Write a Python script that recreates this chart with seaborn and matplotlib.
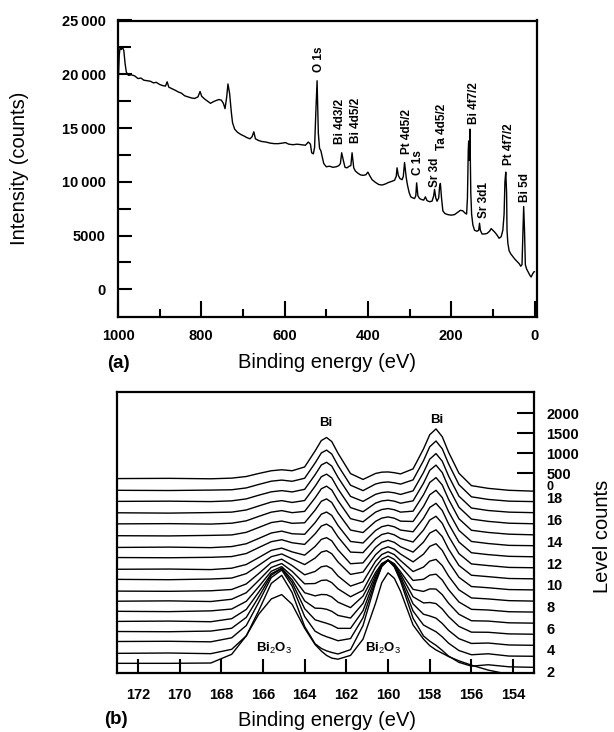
import numpy as np
import pandas as pd
import matplotlib
matplotlib.use("Agg")
import matplotlib.pyplot as plt
import seaborn as sns

# ---------------- (a) survey spectrum ----------------
survey_binding_energy = [
    999, 997, 995, 992, 989, 986, 983, 980, 975, 968, 960, 952, 945, 938, 930, 922, 915, 908, 900, 893,
    886, 882, 878, 870, 862, 855, 848, 840, 832, 824, 816, 808, 803, 799, 792, 785, 778, 771, 765, 758,
    752, 747, 743, 739, 736, 732, 728, 725, 720, 713, 705, 697, 690, 683, 678, 674, 670, 663, 655, 645,
    635, 625, 615, 605, 598, 590, 580, 570, 560, 550, 543, 538, 535, 531, 528, 525, 522, 519, 516, 513,
    510, 506, 500, 492, 484, 476, 470, 466, 463, 459, 455, 450, 445, 441, 438, 434, 430, 424, 418, 412,
    405, 400, 396, 390, 382, 374, 366, 358, 350, 342, 336, 332, 330, 327, 323, 318, 315, 312, 308, 305,
    301, 297, 292, 288, 285, 283, 280, 276, 271, 266, 262, 258, 252, 246, 242, 240, 237, 234, 230, 228,
    226, 223, 220, 215, 208, 200, 192, 185, 178, 172, 167, 163, 161, 159, 158, 157, 156, 155, 153, 151,
    148, 144, 138, 134, 132, 130, 126, 120, 114, 108, 104, 100, 95, 90, 85, 80, 76, 73, 71, 69,
    67, 66, 64, 61, 57, 52, 47, 42, 37, 33, 30, 28, 26, 24, 22, 19, 15, 11, 8, 5, 2, 0]
survey_intensity = [
    19600, 21800, 22500, 22300, 22500, 22200, 21000, 20200, 19900, 19950, 19850, 19600, 19650, 19450, 19400, 19350, 19200, 19250, 19050, 18950,
    18900, 19300, 18800, 18650, 18500, 18350, 18250, 18000, 17900, 17800, 17750, 17900, 18400, 17950, 17700, 17500, 17300, 17450, 17550, 17650,
    17600, 17300, 16800, 17900, 19100, 18200, 16500, 15500, 14900, 14600, 14400, 14250, 14100, 14000, 14200, 14650, 14000, 13850, 13750, 13700,
    13600, 13550, 13550, 13600, 13650, 13500, 13450, 13500, 13450, 13400, 13700, 13500, 12700, 12600, 13200, 16500, 19400, 14500, 13100, 12900,
    12400, 11700, 11400, 11450, 11350, 11400, 11500, 11700, 12700, 12000, 11350, 11300, 11450, 11500, 12700, 11300, 11000, 10800, 10650, 10600,
    10650, 10900, 10600, 10200, 9950, 9750, 9700, 9800, 9950, 10050, 10150, 10500, 11300, 10600, 10300, 10200, 10500, 11800, 10400, 9700,
    9000, 8600, 8500, 8450, 8700, 9900, 8700, 8450, 8350, 8300, 8600, 8250, 8150, 8200, 8700, 9300, 8500, 8200, 8500, 9500,
    9850, 8400, 7300, 7050, 6950, 6900, 6950, 7150, 7350, 7300, 7100, 7000, 8500, 13000, 13800, 12000, 13000, 14900, 9000, 7000,
    6000, 5500, 5400, 5500, 6150, 5500, 5150, 5150, 5200, 5400, 5650, 5500, 5300, 5050, 4750, 4900, 5500, 7000, 10000, 10900,
    9000, 5500, 4300, 3600, 3300, 3050, 2800, 2600, 2400, 2150, 2300, 5000, 7700, 5500, 2300, 1900, 1600, 1300, 1150, 1400, 1600, 1650]

peak_names = ["O 1s", "Bi 4d3/2", "Bi 4d5/2", "Pt 4d5/2", "C 1s", "Sr 3d", "Ta 4d5/2",
              "Bi 4f7/2", "Sr 3d1", "Pt 4f7/2", "Bi 5d"]
peak_label_energy = [518, 466, 428, 306, 280, 240, 221, 146, 122, 61, 23.5]
peak_label_intensity = [20200, 13550, 13600, 12550, 10600, 9530, 12930, 15400, 6600, 11540, 8140]

survey_xticks = [0, 200, 400, 600, 800, 1000]
survey_xticks_minor = [100, 300, 500, 700, 900]
survey_yticks = [0, 5000, 10000, 15000, 20000, 25000]
survey_ytick_labels = ["0", "5000", "10\u2009000", "15\u2009000", "20\u2009000", "25\u2009000"]
survey_yticks_minor = [2500, 7500, 12500, 17500, 22500]

# ---------------- (b) Bi 4f depth profile (offset spectra, in level units) ----------------
hr_binding_energy = [173.0, 170.5, 168.5, 167.5, 166.8, 166.2, 165.6, 165.1, 164.6, 164.0, 163.5,
                     163.2, 162.95, 162.7, 162.4, 161.8, 161.2, 160.6, 160.3, 160.0, 159.7, 159.4,
                     158.8, 158.3, 158.0, 157.7, 157.4, 157.1, 156.6, 156.0, 155.2, 154.2, 153.0]

spectrum_01 = [2.77, 2.77, 2.80, 3.6, 5.3, 7.3, 8.7, 9.1, 8.2, 6.0, 4.5, 3.9, 3.5, 3.25, 3.15, 3.5, 5.0,
               8.3, 10.2, 11.1, 10.6, 9.4, 6.3, 5.0, 4.4, 4.0, 3.7, 3.4, 3.0, 2.6, 2.15, 1.75, 1.55]
spectrum_02 = [3.69, 3.72, 3.66, 4.06, 5.30, 7.63, 10.13, 10.87, 9.28, 6.16, 4.57, 4.14, 3.92, 3.77, 3.63, 4.03, 6.25,
               10.17, 11.68, 12.27, 11.65, 10.33, 6.92, 5.29, 4.81, 4.43, 3.96, 3.44, 2.86, 2.51, 2.64, 2.45, 2.40]
spectrum_03 = [4.78, 4.80, 4.75, 5.12, 6.25, 8.40, 10.67, 11.36, 9.88, 7.08, 5.73, 5.41, 5.22, 5.06, 4.85, 5.05, 6.97,
               10.41, 11.74, 12.25, 11.71, 10.53, 7.58, 6.30, 5.98, 5.68, 5.21, 4.63, 3.95, 3.56, 3.65, 3.44, 3.42]
spectrum_04 = [5.70, 5.68, 5.74, 6.00, 7.00, 8.89, 10.89, 11.49, 10.20, 7.80, 6.78, 6.60, 6.46, 6.29, 5.99, 5.99, 7.62,
               10.65, 11.82, 12.27, 11.80, 10.75, 8.24, 7.29, 7.13, 6.93, 6.44, 5.81, 5.04, 4.60, 4.64, 4.46, 4.43]
spectrum_05 = [6.63, 6.66, 6.60, 6.88, 7.73, 9.33, 11.02, 11.53, 10.46, 8.52, 7.85, 7.83, 7.75, 7.56, 7.18, 6.94, 8.29,
               10.89, 11.89, 12.27, 11.86, 10.98, 8.90, 8.33, 8.37, 8.27, 7.77, 7.07, 6.17, 5.64, 5.63, 5.48, 5.45]
spectrum_06 = [7.56, 7.53, 7.60, 7.77, 8.48, 9.83, 11.25, 11.67, 10.79, 9.27, 8.98, 9.11, 9.09, 8.88, 8.40, 7.90, 8.96,
               11.13, 11.96, 12.28, 11.94, 11.20, 9.58, 9.39, 9.62, 9.61, 9.09, 8.31, 7.29, 6.69, 6.66, 6.50, 6.47]
spectrum_07 = [8.49, 8.52, 8.46, 8.67, 9.27, 10.41, 11.60, 11.96, 11.24, 10.09, 10.12, 10.40, 10.44, 10.20, 9.63, 8.90, 9.49,
               11.63, 12.36, 12.64, 12.34, 11.70, 10.40, 10.51, 10.89, 10.98, 10.44, 9.56, 8.42, 7.74, 7.68, 7.52, 7.49]
spectrum_08 = [9.42, 9.40, 9.45, 9.57, 10.08, 11.04, 12.05, 12.36, 11.77, 10.92, 11.23, 11.66, 11.74, 11.49, 10.81, 9.88, 10.28,
               12.17, 12.79, 13.04, 12.78, 12.23, 11.22, 11.63, 12.18, 12.34, 11.77, 10.81, 9.54, 8.79, 8.70, 8.54, 8.50]
spectrum_09 = [10.50, 10.47, 10.53, 10.62, 11.03, 11.80, 12.59, 12.84, 12.39, 11.86, 12.46, 13.01, 13.14, 12.86, 12.10, 10.96, 11.17,
               12.77, 13.29, 13.50, 13.28, 12.83, 12.11, 12.82, 13.54, 13.78, 13.17, 12.12, 10.69, 9.84, 9.73, 9.56, 9.53]
spectrum_10 = [11.43, 11.45, 11.40, 11.53, 11.87, 12.51, 13.17, 13.38, 13.03, 12.73, 13.53, 14.18, 14.34, 14.05, 13.22, 11.94, 12.02,
               13.45, 13.92, 14.10, 13.91, 13.50, 13.01, 13.93, 14.76, 15.06, 14.44, 13.30, 11.78, 10.88, 10.75, 10.58, 10.55]
spectrum_11 = [12.51, 12.49, 12.53, 12.60, 12.88, 13.43, 13.97, 14.15, 13.87, 13.72, 14.69, 15.41, 15.59, 15.29, 14.41, 13.01, 12.96,
               14.23, 14.63, 14.77, 14.60, 14.26, 13.94, 15.04, 15.96, 16.31, 15.66, 14.48, 12.87, 11.92, 11.77, 11.60, 11.57]
spectrum_12 = [13.44, 13.47, 13.42, 13.52, 13.78, 14.27, 14.77, 14.94, 14.70, 14.65, 15.72, 16.50, 16.70, 16.39, 15.46, 13.99, 13.85,
               15.00, 15.35, 15.48, 15.34, 15.04, 14.88, 16.12, 17.12, 17.50, 16.84, 15.62, 13.94, 12.95, 12.78, 12.62, 12.58]
spectrum_13 = [14.52, 14.50, 14.55, 14.59, 14.83, 15.28, 15.73, 15.87, 15.66, 15.71, 16.87, 17.69, 17.91, 17.58, 16.62, 15.04, 14.81,
               15.84, 16.14, 16.25, 16.13, 15.86, 15.83, 17.21, 18.29, 18.70, 18.03, 16.75, 15.01, 13.99, 13.80, 13.63, 13.60]
spectrum_14 = [15.61, 15.63, 15.59, 15.67, 15.89, 16.30, 16.69, 16.83, 16.64, 16.76, 18.00, 18.84, 19.08, 18.73, 17.75, 16.09, 15.80,
               16.69, 16.93, 17.02, 16.91, 16.69, 16.78, 18.29, 19.42, 19.87, 19.19, 17.88, 16.08, 15.02, 14.82, 14.66, 14.60]
spectrum_15 = [16.63, 16.60, 16.65, 16.69, 16.89, 17.26, 17.62, 17.75, 17.58, 17.76, 19.07, 19.95, 20.19, 19.84, 18.83, 17.11, 16.73,
               17.52, 17.72, 17.79, 17.70, 17.51, 17.73, 19.35, 20.54, 21.02, 20.33, 18.98, 17.14, 16.05, 15.84, 15.67, 15.62]
spectrum_16 = [17.68, 17.70, 17.66, 17.73, 17.91, 18.25, 18.56, 18.67, 18.55, 18.79, 20.13, 21.03, 21.28, 20.93, 19.89, 18.14, 17.68,
               18.33, 18.49, 18.55, 18.47, 18.32, 18.65, 20.34, 21.57, 22.08, 21.38, 20.03, 18.16, 17.07, 16.84, 16.69, 16.64]
spectrum_17 = [18.70, 18.68, 18.72, 18.75, 18.92, 19.24, 19.54, 19.64, 19.53, 19.81, 21.21, 22.14, 22.40, 22.04, 20.98, 19.17, 18.67,
               19.28, 19.42, 19.47, 19.39, 19.27, 19.66, 21.43, 22.71, 23.24, 22.52, 21.15, 19.22, 18.10, 17.86, 17.70, 17.66]
spectrum_18 = [19.78, 19.80, 19.76, 19.82, 19.97, 20.25, 20.50, 20.59, 20.50, 20.85, 22.32, 23.28, 23.56, 23.19, 22.11, 20.24, 19.70,
               20.25, 20.37, 20.39, 20.32, 20.21, 20.67, 22.51, 23.82, 24.35, 23.63, 22.22, 20.27, 19.13, 18.88, 18.70, 18.62]

hr_xticks = [172, 170, 168, 166, 164, 162, 160, 158, 156, 154]
level_ticks = [2, 4, 6, 8, 10, 12, 14, 16, 18]
count_tick_labels = ["0", "500", "1000", "1500", "2000"]
count_tick_levels = [19.15, 20.27, 22.11, 23.95, 25.79]

# ---------------- style ----------------
sns.set_theme(style="ticks")
plt.rcParams['font.family'] = ['Liberation Sans', 'DejaVu Sans']
plt.rcParams['mathtext.fontset'] = 'custom'
plt.rcParams['mathtext.rm'] = 'Liberation Sans'
plt.rcParams['mathtext.it'] = 'Liberation Sans:italic'
plt.rcParams['mathtext.bf'] = 'Liberation Sans:bold'
for key in ['text.color', 'axes.labelcolor', 'xtick.color', 'ytick.color', 'axes.edgecolor']:
    plt.rcParams[key] = 'black'

W, H = 614, 732
fig = plt.figure(figsize=(W / 100, H / 100), dpi=100)
fig.patch.set_facecolor('white')


def box(l, t, r, b):
    return [l / W, 1 - b / H, (r - l) / W, (b - t) / H]


TICK_FS = 10.5
LABEL_FS = 14.5

# ---------- panel (a) ----------
ax1 = fig.add_axes(box(118, 20.5, 536.5, 317))
survey_df = pd.DataFrame({'energy': survey_binding_energy, 'intensity': survey_intensity})
sns.lineplot(data=survey_df, x='energy', y='intensity', ax=ax1, color='black',
             linewidth=1.0, estimator=None, sort=False)
ax1.set_xlim(1000, -4.8)
ax1.set_ylim(-2570, 25000)
ax1.set_xticks(survey_xticks, labels=[str(v) for v in survey_xticks], fontsize=TICK_FS, fontweight='bold')
ax1.set_xticks(survey_xticks_minor, minor=True)
ax1.set_yticks(survey_yticks, labels=survey_ytick_labels, fontsize=TICK_FS, fontweight='bold')
ax1.set_yticks(survey_yticks_minor, minor=True)
ax1.tick_params(axis='x', which='major', direction='in', length=11.5, width=1.5, pad=9, top=False)
ax1.tick_params(axis='x', which='minor', direction='in', length=6, width=1.5, top=False)
ax1.tick_params(axis='y', which='major', direction='in', length=10, width=1.5, pad=9, right=False)
ax1.tick_params(axis='y', which='minor', direction='in', length=9, width=1.5, right=False)
for sp in ax1.spines.values():
    sp.set_visible(True)
    sp.set_linewidth(1.6)
ax1.set_xlabel('Binding energy (eV)', fontsize=LABEL_FS)
ax1.xaxis.label.set_va('center')
ax1.xaxis.set_label_coords(0.5, -(363 - 317) / 296.5)
ax1.set_ylabel('Intensity (counts)', fontsize=LABEL_FS)
ax1.yaxis.label.set_va('center')
ax1.yaxis.set_label_coords((20 - 118) / 418.5, 0.5)

for name, e, i in zip(peak_names, peak_label_energy, peak_label_intensity):
    ax1.text(e, i, name, rotation=90, ha='center', va='bottom', fontsize=8.5, fontweight='bold')

fig.text(118 / W, 1 - 363 / H, '(a)', ha='center', va='center', fontsize=13.5, fontweight='bold')

# ---------- panel (b) ----------
ax2 = fig.add_axes(box(117, 392, 534, 673))
spectra = [spectrum_01, spectrum_02, spectrum_03, spectrum_04, spectrum_05, spectrum_06,
           spectrum_07, spectrum_08, spectrum_09, spectrum_10, spectrum_11, spectrum_12,
           spectrum_13, spectrum_14, spectrum_15, spectrum_16, spectrum_17, spectrum_18]
hr_df = pd.DataFrame({
    'energy': np.tile(hr_binding_energy, len(spectra)),
    'level': np.concatenate([np.asarray(s, dtype=float) for s in spectra]),
    'curve': np.repeat(np.arange(len(spectra)), len(hr_binding_energy)),
})
sns.lineplot(data=hr_df, x='energy', y='level', units='curve', estimator=None, sort=False,
             color='black', linewidth=1.0, ax=ax2, legend=False)
ax2.set_xlim(173, 153)
ax2.set_ylim(1.88, 27.75)
ax2.set_xticks(hr_xticks, labels=[str(v) for v in hr_xticks], fontsize=TICK_FS, fontweight='bold')
ax2.tick_params(axis='x', which='major', direction='in', length=10, width=1.5, pad=10.5, top=False)
ax2.yaxis.tick_right()
ax2.set_yticks(count_tick_levels[1:], labels=count_tick_labels[1:], fontsize=TICK_FS, fontweight='bold')
minor_labels = ax2.set_yticks(level_ticks + [count_tick_levels[0]],
                              labels=[str(v) for v in level_ticks] + [count_tick_labels[0]],
                              minor=True, fontsize=TICK_FS, fontweight='bold')
ax2.tick_params(axis='y', which='major', direction='in', length=12, width=1.5, pad=9,
                left=False, right=True, labelleft=False, labelright=True)
ax2.tick_params(axis='y', which='minor', length=0, pad=9,
                left=False, right=True, labelleft=False, labelright=True)
# the squeezed "0" of the counts scale is set a little smaller, as in the original
ax2.yaxis.get_minor_ticks()[-1].label2.set_fontsize(9)
for sp in ax2.spines.values():
    sp.set_visible(True)
    sp.set_linewidth(1.6)
ax2.set_xlabel('Binding energy (eV)', fontsize=LABEL_FS)
ax2.xaxis.label.set_va('center')
ax2.xaxis.set_label_coords((327 - 117) / 417, -(720 - 673) / 281)
ax2.set_ylabel('Level counts', fontsize=LABEL_FS)
ax2.yaxis.set_label_position('right')
ax2.yaxis.label.set_rotation(90)
ax2.yaxis.label.set_va('center')
ax2.yaxis.label.set_ha('center')
ax2.yaxis.set_label_coords((603 - 117) / 417, (673 - 536) / 281)

ax2.text(162.97, 24.9, 'Bi', ha='center', va='center', fontsize=9.5, fontweight='bold')
ax2.text(157.67, 25.15, 'Bi', ha='center', va='center', fontsize=9.5, fontweight='bold')
ax2.text(165.45, 4.15, 'Bi$_2$O$_3$', ha='center', va='center', fontsize=9.5, fontweight='bold')
ax2.text(160.25, 4.15, 'Bi$_2$O$_3$', ha='center', va='center', fontsize=9.5, fontweight='bold')

fig.text(115.5 / W, 1 - 720 / H, '(b)', ha='center', va='center', fontsize=13.5, fontweight='bold')

fig.savefig('out.png', dpi=100, facecolor='white')
